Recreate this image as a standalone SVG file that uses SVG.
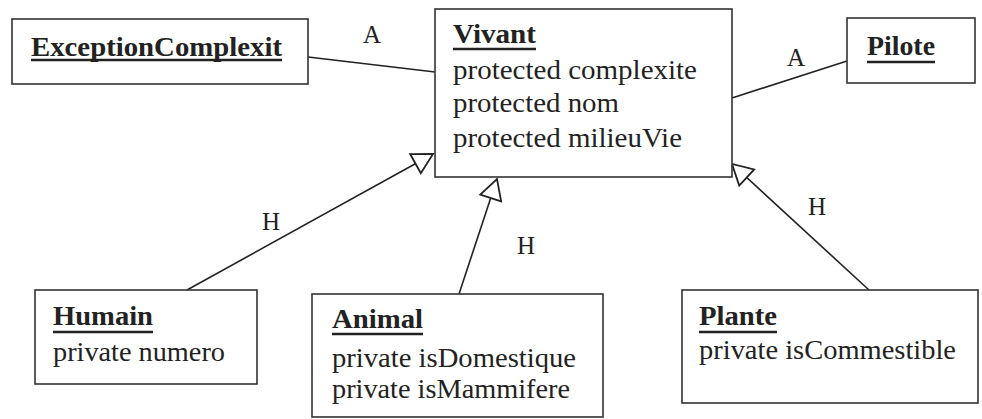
<svg xmlns="http://www.w3.org/2000/svg" width="982" height="419" viewBox="0 0 982 419">
  <style>
    .box { fill: #ffffff; stroke: #333333; stroke-width: 1.6; }
    .title { font-family: "Liberation Serif", "Times New Roman", serif; font-weight: bold; font-size: 27px; fill: #222222; }
    .attr { font-family: "Liberation Serif", "Times New Roman", serif; font-size: 27px; fill: #222222; }
    .lbl { font-family: "Liberation Serif", "Times New Roman", serif; font-size: 25px; fill: #222222; }
    .ul { stroke: #222222; stroke-width: 2.5; }
    .conn { stroke: #222222; stroke-width: 1.6; fill: none; }
  </style>
  <defs>
    <marker id="inh" markerUnits="userSpaceOnUse" viewBox="-2 -13 24 26" refX="20" refY="0" markerWidth="24" markerHeight="26" orient="auto">
      <path d="M0,-11 L20,0 L0,11 Z" fill="#ffffff" stroke="#222222" stroke-width="1.8" stroke-linejoin="miter"/>
    </marker>
  </defs>
  <rect width="982" height="419" fill="#ffffff"/>

  <g id="connectors">
    <line class="conn" x1="308" y1="57" x2="435" y2="72"/>
    <line class="conn" x1="732" y1="98" x2="847" y2="61"/>
    <line class="conn" x1="187" y1="290" x2="433" y2="154" marker-end="url(#inh)"/>
    <line class="conn" x1="459" y1="294" x2="497" y2="179" marker-end="url(#inh)"/>
    <line class="conn" x1="869" y1="290" x2="732" y2="164" marker-end="url(#inh)"/>
    <text class="lbl" x="363" y="43">A</text>
    <text class="lbl" x="787" y="66">A</text>
    <text class="lbl" x="262" y="230">H</text>
    <text class="lbl" x="517" y="254">H</text>
    <text class="lbl" x="808" y="215">H</text>
  </g>

  <g id="ExceptionComplexit">
    <rect class="box" x="12" y="19" width="296" height="65"/>
    <text class="title" x="31" y="56" textLength="251" lengthAdjust="spacingAndGlyphs">ExceptionComplexit</text>
    <line class="ul" x1="31" y1="60" x2="282" y2="60"/>
  </g>

  <g id="Vivant">
    <rect class="box" x="435" y="9" width="297" height="168"/>
    <text class="title" x="453" y="43" textLength="83" lengthAdjust="spacingAndGlyphs">Vivant</text>
    <line class="ul" x1="453" y1="49" x2="536" y2="49"/>
    <text class="attr" x="453" y="79" textLength="244" lengthAdjust="spacingAndGlyphs">protected complexite</text>
    <text class="attr" x="453" y="112" textLength="166" lengthAdjust="spacingAndGlyphs">protected nom</text>
    <text class="attr" x="453" y="147" textLength="229" lengthAdjust="spacingAndGlyphs">protected milieuVie</text>
  </g>

  <g id="Pilote">
    <rect class="box" x="847" y="18" width="128" height="65"/>
    <text class="title" x="867" y="55" textLength="68" lengthAdjust="spacingAndGlyphs">Pilote</text>
    <line class="ul" x1="867" y1="62" x2="935" y2="62"/>
  </g>

  <g id="Humain">
    <rect class="box" x="35" y="290" width="222" height="94"/>
    <text class="title" x="53" y="325" textLength="100" lengthAdjust="spacingAndGlyphs">Humain</text>
    <line class="ul" x1="53" y1="332" x2="153" y2="332"/>
    <text class="attr" x="53" y="361" textLength="172" lengthAdjust="spacingAndGlyphs">private numero</text>
  </g>

  <g id="Animal">
    <rect class="box" x="312" y="294" width="291" height="123"/>
    <text class="title" x="332" y="328" textLength="91" lengthAdjust="spacingAndGlyphs">Animal</text>
    <line class="ul" x1="332" y1="334" x2="423" y2="334"/>
    <text class="attr" x="332" y="367" textLength="244" lengthAdjust="spacingAndGlyphs">private isDomestique</text>
    <text class="attr" x="332" y="398" textLength="238" lengthAdjust="spacingAndGlyphs">private isMammifere</text>
  </g>

  <g id="Plante">
    <rect class="box" x="682" y="290" width="296" height="113"/>
    <text class="title" x="699" y="325" textLength="78" lengthAdjust="spacingAndGlyphs">Plante</text>
    <line class="ul" x1="699" y1="332" x2="777" y2="332"/>
    <text class="attr" x="699" y="359" textLength="257" lengthAdjust="spacingAndGlyphs">private isCommestible</text>
  </g>
</svg>
